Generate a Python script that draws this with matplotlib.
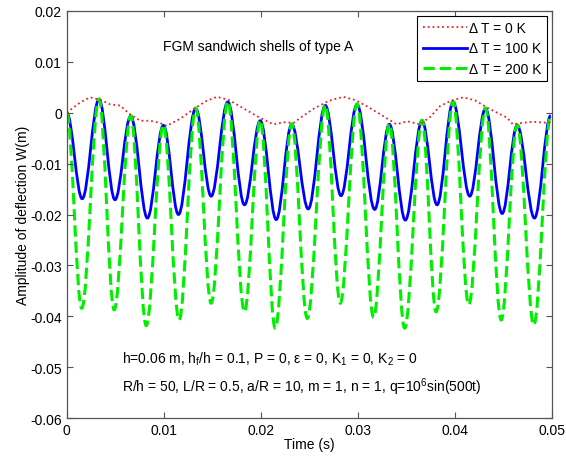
#deflection amplitude vs time, FGM sandwich shells
import matplotlib
matplotlib.use('Agg')
import matplotlib.pyplot as plt
from matplotlib.path import Path
from matplotlib.patches import PathPatch
from matplotlib.lines import Line2D

plt.rcParams['font.family'] = ['Liberation Sans', 'DejaVu Sans']
plt.rcParams['axes.unicode_minus'] = False

# dT = 0 K
t_0 = [0.0, 0.0014, 0.0024, 0.0035, 0.0045, 0.0055, 0.0065, 0.0076, 0.0086, 0.0096,
       0.0103, 0.0117, 0.0131, 0.0143, 0.0155, 0.0167, 0.0179, 0.0199, 0.0213, 0.0224,
       0.0234, 0.0241, 0.0254, 0.0270, 0.0285, 0.0297, 0.0309, 0.0323, 0.0340, 0.0351,
       0.0364, 0.0375, 0.0385, 0.0397, 0.0409, 0.0421, 0.0433, 0.0454, 0.0460, 0.0470,
       0.0481, 0.0495, 0.0500]
w_0 = [0.0, 0.0020, 0.0030, 0.0025, 0.0016, 0.0014, -0.0003, -0.0016, -0.0016, -0.0020,
       -0.0026, -0.0012, 0.0007, 0.0022, 0.0031, 0.0025, 0.0012, -0.0010, -0.0023, -0.0019,
       -0.0020, -0.0010, 0.0007, 0.0023, 0.0031, 0.0025, 0.0013, -0.0003, -0.0023, -0.0017,
       -0.0023, -0.0008, 0.0013, 0.0024, 0.0030, 0.0024, 0.0010, -0.0010, -0.0023, -0.0020,
       -0.0018, -0.0020, -0.0019]

# dT = 100 K, peaks and troughs
t_100 = [0.0, 0.0016, 0.00333, 0.00498, 0.0066, 0.00832, 0.00997, 0.01152, 0.0133, 0.01489,
         0.01661, 0.01833, 0.01995, 0.0216, 0.0232, 0.0249, 0.02666, 0.02828, 0.02993, 0.03175,
         0.03326, 0.03491, 0.03663, 0.03818, 0.03983, 0.04155, 0.04317, 0.04489, 0.04644, 0.04822,
         0.0499]
w_100 = [0.0, -0.0169, 0.0026, -0.0171, -0.0007, -0.0207, -0.0025, -0.0200, 0.0008, -0.0164,
         0.0021, -0.0181, -0.0016, -0.0210, -0.0023, -0.0189, 0.0014, -0.0163, 0.0016, -0.0190,
         -0.0023, -0.0211, -0.0016, -0.0181, 0.0021, -0.0164, 0.0008, -0.0198, -0.0025, -0.0207,
         -0.0006]

# dT = 200 K, peaks and troughs
t_200 = [0.0, 0.00155, 0.00333, 0.0049, 0.0066, 0.0082, 0.00997, 0.01159, 0.0133, 0.01489,
         0.01661, 0.01833, 0.01995, 0.0215, 0.0232, 0.0248, 0.02666, 0.0282, 0.02993, 0.03164,
         0.03326, 0.03484, 0.03663, 0.03808, 0.03983, 0.04145, 0.04317, 0.04479, 0.04644, 0.04815,
         0.0499]
w_200 = [0.0, -0.0384, 0.0027, -0.0387, -0.0006, -0.0418, -0.0024, -0.0407, 0.0009, -0.0374,
         0.0022, -0.0391, -0.0015, -0.0423, -0.0022, -0.0404, 0.0015, -0.0374, 0.0017, -0.0402,
         -0.0022, -0.0423, -0.0015, -0.0391, 0.0022, -0.0377, 0.0009, -0.0407, -0.0024, -0.0417,
         -0.0005]

xticks = [0, 0.01, 0.02, 0.03, 0.04, 0.05]
xticklabels = ['0', '0.01', '0.02', '0.03', '0.04', '0.05']
yticks = [0.02, 0.01, 0, -0.01, -0.02, -0.03, -0.04, -0.05, -0.06]
yticklabels = ['0.02', '0.01', '0', '-0.01', '-0.02', '-0.03', '-0.04', '-0.05', '-0.06']
labels = ['\u0394 T = 0 K', '\u0394 T = 100 K', '\u0394 T = 200 K']


def smooth_path(t, w, k=0.3634):
    # cubic bezier between consecutive extrema, flat tangents at each one
    verts = [(t[0], w[0])]
    codes = [Path.MOVETO]
    for i in range(len(t) - 1):
        dt = t[i + 1] - t[i]
        verts += [(t[i] + k * dt, w[i]), (t[i + 1] - k * dt, w[i + 1]), (t[i + 1], w[i + 1])]
        codes += [Path.CURVE4] * 3
    return Path(verts, codes)


fig = plt.figure(figsize=(5.66, 4.60), dpi=100)
ax = fig.add_axes([0.1178, 0.0885, 0.857, 0.886])

ax.plot(t_0, w_0, color='#e8202a', linestyle=':', linewidth=1.3)
ax.add_patch(PathPatch(smooth_path(t_100, w_100), fill=False, edgecolor='#0000ff',
                       linewidth=2.0, linestyle='-'))
ax.add_patch(PathPatch(smooth_path(t_200, w_200), fill=False, edgecolor='#00ee00',
                       linewidth=2.2, linestyle='--'))

ax.set_xlim(0, 0.05)
ax.set_ylim(-0.06, 0.02)
ax.set_xticks(xticks)
ax.set_xticklabels(xticklabels)
ax.set_yticks(yticks)
ax.set_yticklabels(yticklabels)
ax.tick_params(direction='in', top=True, right=True, length=4, width=0.8,
               color='#555555', labelsize=10)
for s in ax.spines.values():
    s.set_color('#555555')
    s.set_linewidth(0.9)

ax.set_xlabel('Time (s)', fontsize=10, labelpad=0)
ax.set_ylabel('Amplitude of deflection W(m)', fontsize=10, labelpad=0)

ax.text(0.0099, 0.0131, 'FGM sandwich shells of type A', fontsize=10, va='center')
ax.text(0.0057, -0.0483, 'h=0.06 m, h$_\\mathregular{f}$/h = 0.1, P = 0, \u03b5 = 0, '
        'K$_\\mathregular{1}$ = 0, K$_\\mathregular{2}$ = 0', fontsize=10, va='center')
ax.text(0.0057, -0.0537, 'R/h = 50, L/R = 0.5, a/R = 10, m = 1, n = 1, '
        'q=10$^\\mathregular{6}$sin(500t)', fontsize=10, va='center')

handles = [Line2D([], [], color='#e8202a', linestyle=':', linewidth=1.3),
           Line2D([], [], color='#0000ff', linestyle='-', linewidth=2.0),
           Line2D([], [], color='#00ee00', linestyle='--', linewidth=2.2)]
leg = ax.legend(handles, labels, loc='upper right', fontsize=10, fancybox=False,
                framealpha=1, edgecolor='black', borderaxespad=0.35,
                handlelength=3.2, handletextpad=0.1, labelspacing=0.45, borderpad=0.4)
leg.get_frame().set_linewidth(0.8)

plt.savefig('out.png', dpi=100)
